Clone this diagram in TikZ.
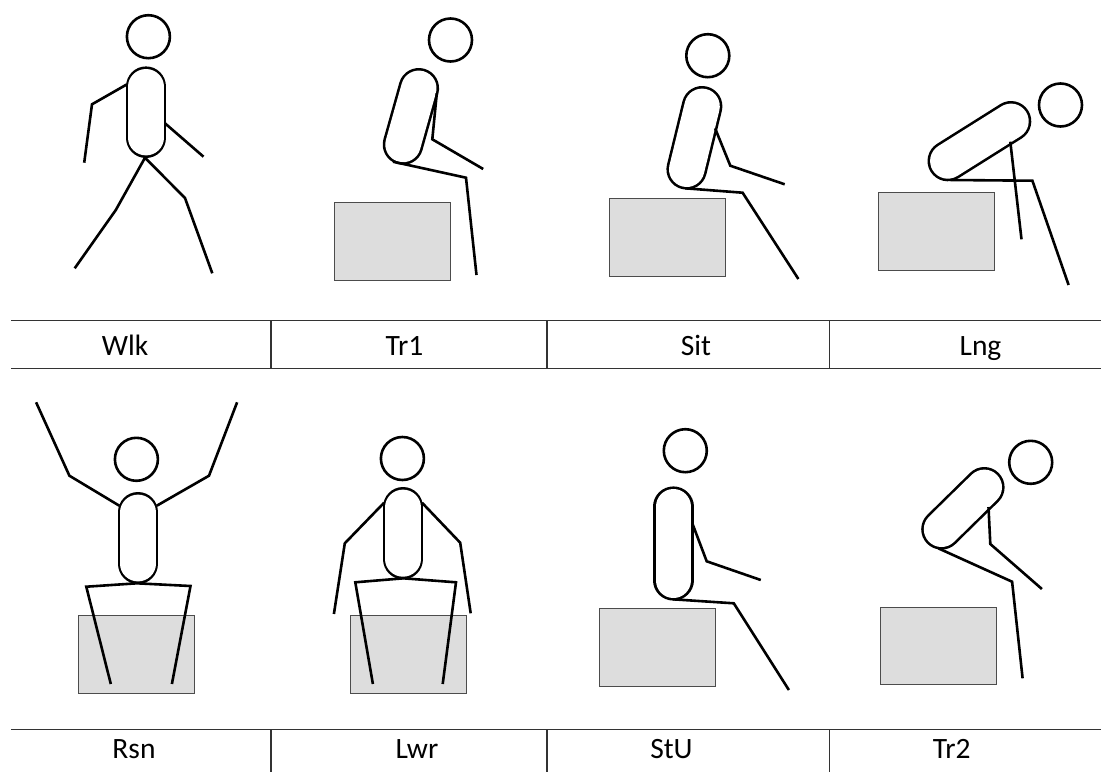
\documentclass[tikz,border=0pt]{standalone}
\usepackage{fontspec}
\setmainfont{Carlito}
\usepackage{tikz}
\definecolor{boxgray}{HTML}{DDDDDD}
\tikzstyle{limb} = [line width=2.6pt]
\tikzstyle{head} = [draw, circle, line width=2.6pt, minimum size=43pt, inner sep=0pt]
\tikzstyle{seat} = [draw=black!70, fill=boxgray, line width=1pt]
\tikzstyle{rule} = [draw=black!80, line width=1.4pt]
\tikzstyle{lbl} = [anchor=base, inner sep=0pt, font=\fontsize{29.5}{34}\selectfont]
\newcommand{\torso}[2]{%
  \draw[line width=40.6pt, line cap=round] #1 -- #2;
  \draw[white, line width=35.4pt, line cap=round] #1 -- #2;}

\begin{document}
\begin{tikzpicture}[x=1pt, y=-1pt]
            \useasboundingbox (0,0) rectangle (1101,772);

            \torso{(146,86.7)}{(146,137.7)}
            \draw[limb] (127,84.3) -- (92,104.3) -- (84.2,162.7);
            \draw[limb] (165,123.3) -- (203.5,156.7);
            \draw[limb] (74.7,268.3) -- (115.8,210) -- (145,157.7) -- (185,198) -- (212.3,273.3);
            \node[head] (hwlk) at (148.4,36.7) {};

            \draw[seat] (334.4,202.3) rectangle (450.5,280);
            \torso{(418.8,88.3)}{(403,144.5)}
            \draw[limb] (436.8,93.3) -- (432.3,139.3) -- (483.2,169);
            \draw[limb] (393,161.7) -- (466,177.7) -- (476.5,275);
            \node[head] (htra) at (450.5,40) {};

            \draw[seat] (609,198.3) rectangle (725,276);
            \torso{(702.1,106.3)}{(686.7,169.3)}
            \draw[limb] (715.1,128.3) -- (730.3,165.7) -- (784.7,184.3);
            \draw[limb] (685.3,188.3) -- (742.6,192.7) -- (798.4,279);
            \node[head] (hsit) at (707.8,55.7) {};

            \draw[seat] (878.2,192.7) rectangle (994.1,270.7);
            \torso{(1011,121.3)}{(947.8,161)}
            \draw[limb] (1010.3,141.7) -- (1021.5,239.3);
            \draw[limb] (950.6,180) -- (1032.4,180.7) -- (1068.6,285);
            \node[head] (hlng) at (1060.5,105) {};

            \draw[seat] (78.6,615.7) rectangle (194.7,693.3);
            \torso{(138,512.3)}{(138,563.7)}
            \draw[limb] (119.3,505.7) -- (69.4,475.7) -- (36.1,402.3);
            \draw[limb] (156.8,505.7) -- (209,475.7) -- (237.1,402.3);
            \draw[limb] (110.8,684) -- (86.3,586.7) -- (136.8,583.3) -- (190.5,586) -- (171.9,684);
            \node[head] (hrsn) at (136.4,459.3) {};

            \draw[seat] (350.4,615.7) rectangle (466.5,693.3);
            \torso{(403,507.3)}{(403,559)}
            \draw[limb] (384.1,502.7) -- (344.8,543.3) -- (333.9,614);
            \draw[limb] (422,502.7) -- (460.2,542.7) -- (470.7,613.3);
            \draw[limb] (372.9,684) -- (355.3,582.3) -- (403.4,578.3) -- (456,582.3) -- (442.7,684);
            \node[head] (hlwr) at (402.4,458.5) {};

            \draw[seat] (599.5,608.7) rectangle (715.8,686.7);
            \torso{(673.3,506.7)}{(673.3,580.3)}
            \draw[limb] (692.3,523.3) -- (706.7,561.3) -- (760.8,580);
            \draw[limb] (673,599.3) -- (733.8,603.3) -- (788.9,690);
            \node[head] (hstu) at (685.3,450.7) {};

            \draw[seat] (880.6,607) rectangle (996.9,684.3);
            \torso{(984.3,487.3)}{(941.5,529.3)}
            \draw[limb] (988.5,507) -- (990.3,544) -- (1041.9,589);
            \draw[limb] (938.3,548.3) -- (1012.1,581.7) -- (1022.6,678.3);
            \node[head] (htrb) at (1030.7,462.3) {};

            \draw[rule] (11,320.7) -- (1101,320.7);
            \draw[rule] (11,368.6) -- (1101,368.6);
            \draw[rule] (271,320.7) -- (271,368.6);
            \draw[rule] (547,320.7) -- (547,368.6);
            \draw[rule] (829.5,320.7) -- (829.5,368.6);
            \node[lbl] (lwlk) at (125,355) {Wlk};
            \node[lbl] (ltra) at (404.5,355) {Tr1};
            \node[lbl] (lsit) at (696,355) {Sit};
            \node[lbl] (llng) at (980.5,355) {Lng};

            \draw[rule] (11,729.3) -- (1101,729.3);
            \draw[rule] (271,729.3) -- (271,772);
            \draw[rule] (547,729.3) -- (547,772);
            \draw[rule] (829.5,729.3) -- (829.5,772);
            \node[lbl] (lrsn) at (134,758.3) {Rsn};
            \node[lbl] (llwr) at (417,758.3) {Lwr};
            \node[lbl] (lstu) at (671.5,758.3) {StU};
            \node[lbl] (ltrb) at (951.7,758.3) {Tr2};
        \end{tikzpicture}
\end{document}
